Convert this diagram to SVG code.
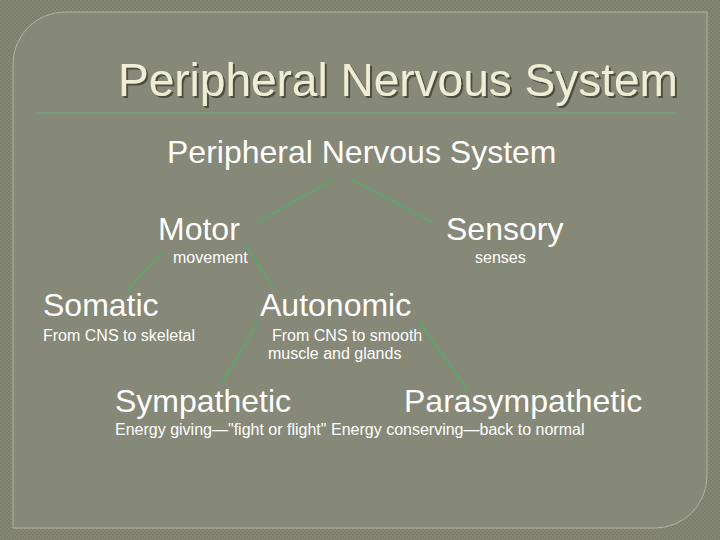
<svg xmlns="http://www.w3.org/2000/svg" width="720" height="540" viewBox="0 0 720 540">
  <defs>
    <pattern id="tex" width="4" height="4" patternUnits="userSpaceOnUse">
      <rect width="4" height="4" fill="#7c7e6c"/>
      <rect x="0" y="0" width="2" height="2" fill="#868875"/>
      <rect x="2" y="2" width="2" height="2" fill="#868875"/>
    </pattern>
    <filter id="sh" x="-5%" y="-20%" width="110%" height="140%">
      <feDropShadow dx="2" dy="2" stdDeviation="0.6" flood-color="#3e3f34" flood-opacity="0.8"/>
    </filter>
  </defs>
  <style>
    .t{font-family:"Liberation Sans",Arial,sans-serif;fill:#ffffff}
    .big{font-size:32px}
    .sm{font-size:16px}
    .ln{stroke:#64a070;stroke-width:2.2;fill:none;stroke-linecap:round}
  </style>
  <rect width="720" height="540" fill="url(#tex)"/>
  <path d="M65,12 H707 V476 A52,52 0 0 1 655,528 H13 V64 A52,52 0 0 1 65,12 Z" fill="#868878" stroke="#b2b49e" stroke-width="1"/>
  <g id="title">
    <text x="118" y="96" font-family="Liberation Sans,Arial,sans-serif" font-size="46" fill="#eeeed6" filter="url(#sh)">Peripheral Nervous System</text>
    <line x1="35" y1="113" x2="675" y2="113" stroke="#789a78" stroke-width="2.5"/>
  </g>
  <g id="connectors">
    <line class="ln" x1="332" y1="180" x2="258" y2="222"/>
    <line class="ln" x1="353" y1="180" x2="432" y2="222"/>
    <line class="ln" x1="162" y1="252" x2="128" y2="290"/>
    <line class="ln" x1="245" y1="244" x2="273" y2="287"/>
    <line class="ln" x1="258" y1="323" x2="222" y2="383"/>
    <line class="ln" x1="420" y1="323" x2="468" y2="390"/>
  </g>
  <g id="pns"><text class="t big" x="167" y="163">Peripheral Nervous System</text></g>
  <g id="motor">
    <text class="t big" x="158" y="240">Motor</text>
    <text class="t sm" x="173" y="263">movement</text>
  </g>
  <g id="sensory">
    <text class="t big" x="446" y="240">Sensory</text>
    <text class="t sm" x="475" y="263">senses</text>
  </g>
  <g id="somatic">
    <text class="t big" x="43" y="316">Somatic</text>
    <text class="t sm" x="43" y="341">From CNS to skeletal</text>
  </g>
  <g id="autonomic">
    <text class="t big" x="260" y="316">Autonomic</text>
    <text class="t sm" x="272" y="341">From CNS to smooth</text>
    <text class="t sm" x="268" y="359">muscle and glands</text>
  </g>
  <g id="sympathetic">
    <text class="t big" x="115" y="412">Sympathetic</text>
    <text class="t sm" x="115" y="435">Energy giving—"fight or flight"</text>
  </g>
  <g id="parasympathetic">
    <text class="t big" x="404" y="412">Parasympathetic</text>
    <text class="t sm" x="331" y="435">Energy conserving—back to normal</text>
  </g>
</svg>
